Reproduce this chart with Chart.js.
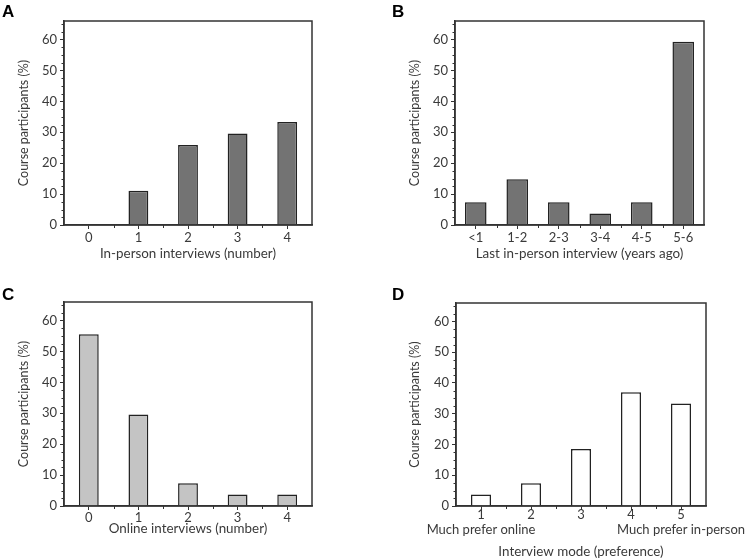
<!DOCTYPE html>
<html><head><meta charset="utf-8">
<script src="https://cdn.jsdelivr.net/npm/chart.js@4"></script>
<style>
html,body{margin:0;padding:0;background:#fff;}
#wrap{position:relative;width:753px;height:560px;overflow:hidden;}
.panel{position:absolute;}
.letter{position:absolute;font:bold 17px "Liberation Sans",Arial,sans-serif;color:#000;line-height:17px;}
</style></head><body>
<div id="wrap">
  <div class="panel" style="left:0;top:0"><canvas id="cA" width="376" height="280"></canvas></div>
  <div class="panel" style="left:376px;top:0"><canvas id="cB" width="377" height="280"></canvas></div>
  <div class="panel" style="left:0;top:280px"><canvas id="cC" width="376" height="280"></canvas></div>
  <div class="panel" style="left:376px;top:280px"><canvas id="cD" width="377" height="280"></canvas></div>
  <div class="letter" style="left:2px;top:3px">A</div>
  <div class="letter" style="left:392px;top:3px">B</div>
  <div class="letter" style="left:2px;top:286px">C</div>
  <div class="letter" style="left:392px;top:286px">D</div>
</div>
<script>
// ---- data ----
const yTitle = 'Course participants (%)';
const categoriesA = ['0', '1', '2', '3', '4'];
const valuesA = [0, 11.1, 25.9, 29.6, 33.3];
const xTitleA = 'In-person interviews (number)';

const categoriesB = ['<1', '1-2', '2-3', '3-4', '4-5', '5-6'];
const valuesB = [7.4, 14.8, 7.4, 3.7, 7.4, 59.3];
const xTitleB = 'Last in-person interview (years ago)';

const categoriesC = ['0', '1', '2', '3', '4'];
const valuesC = [55.6, 29.6, 7.4, 3.7, 3.7];
const xTitleC = 'Online interviews (number)';

const categoriesD = [['1', 'Much prefer online'], ['2'], ['3'], ['4'], ['5', 'Much prefer in-person']];
const valuesD = [3.7, 7.4, 18.5, 37.0, 33.3];
const xTitleD = 'Interview mode (preference)';

const yMax = 66, yStep = 10, yMinorStep = 2.5;

// ---- style ----
const FONT = 'Lato, "Open Sans", sans-serif';
const TXT = '#3a3a3a';
const LINE = '#333333';

const boxPlugin = {
  id: 'box',
  afterDraw(chart) {
    const {ctx, chartArea: a, scales: {x, y}} = chart;
    ctx.save();
    ctx.strokeStyle = LINE;
    ctx.lineWidth = 1;
    ctx.beginPath();
    for (let v = 0; v <= y.max; v += yMinorStep) {
      if (v % yStep === 0) continue;
      const py = Math.round(y.getPixelForValue(v)) + 0.5;
      ctx.moveTo(a.left - 2.5, py); ctx.lineTo(a.left, py);
    }
    const n = chart.data.labels.length;
    for (let i = 0; i < n - 1; i++) {
      const px = Math.round((x.getPixelForValue(i) + x.getPixelForValue(i + 1)) / 2) + 0.5;
      ctx.moveTo(px, a.bottom); ctx.lineTo(px, a.bottom + 3);
    }
    ctx.stroke();
    ctx.lineWidth = 1.5;
    ctx.strokeRect(a.left, a.top, a.right - a.left, a.bottom - a.top);
    ctx.restore();
  }
};

function makeChart(id, labels, values, xTitle, o) {
  return new Chart(document.getElementById(id), {
    type: 'bar',
    data: {
      labels: labels,
      datasets: [{
        data: values,
        backgroundColor: o.fill,
        borderColor: '#222',
        borderWidth: 1.5,
        barPercentage: o.barPct,
        categoryPercentage: 1
      }]
    },
    options: {
      responsive: false,
      animation: false,
      devicePixelRatio: 1,
      layout: {padding: {top: o.top, right: o.right, left: 0, bottom: 0}},
      plugins: {legend: {display: false}, tooltip: {enabled: false}},
      scales: {
        x: {
          offset: true,
          grid: {offset: false, drawOnChartArea: false, drawTicks: true, tickLength: 4, color: LINE},
          border: {display: true, color: LINE, width: 1.5},
          ticks: {color: TXT, font: {family: FONT, size: 13, lineHeight: o.tickLH}, padding: o.tickPad, maxRotation: 0, autoSkip: false},
          title: {display: true, text: xTitle, color: TXT, font: {family: FONT, size: 13.4, lineHeight: 1.2}, padding: {top: 0, bottom: o.xTitlePad}},
          afterFit(s) { s.height = o.xH; }
        },
        y: {
          min: 0, max: yMax,
          grid: {drawOnChartArea: false, drawTicks: true, tickLength: 4, color: LINE},
          border: {display: true, color: LINE, width: 1.5},
          ticks: {stepSize: yStep, includeBounds: false, color: TXT, font: {family: FONT, size: 13}, padding: 3},
          title: {display: true, text: yTitle, color: TXT, font: {family: FONT, size: 12.5, lineHeight: 1.2}, padding: {top: o.yTitlePad, bottom: 0}},
          afterFit(s) { s.width = o.yW; }
        }
      }
    },
    plugins: [boxPlugin]
  });
}

makeChart('cA', categoriesA, valuesA, xTitleA, {fill: '#737373', barPct: 0.4, top: 21, right: 64, yW: 64, xH: 55, tickPad: 2, tickLH: 1.1, xTitlePad: 18.5, yTitlePad: 16});
makeChart('cB', categoriesB, valuesB, xTitleB, {fill: '#737373', barPct: 0.52, top: 21, right: 49, yW: 79, xH: 55, tickPad: 2, tickLH: 1.1, xTitlePad: 18.5, yTitlePad: 31});
makeChart('cC', categoriesC, valuesC, xTitleC, {fill: '#c4c4c4', barPct: 0.4, top: 22, right: 64, yW: 64, xH: 54, tickPad: 1, tickLH: 1.1, xTitlePad: 23, yTitlePad: 16});
makeChart('cD', categoriesD, valuesD, xTitleD, {fill: '#ffffff', barPct: 0.4, top: 23, right: 47, yW: 80, xH: 54, tickPad: -3, tickLH: 1.15, xTitlePad: 0, yTitlePad: 31});
</script>
</body></html>
